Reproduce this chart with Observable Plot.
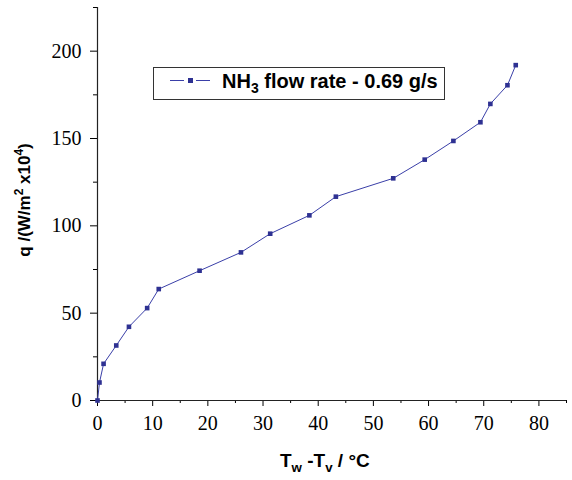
<!DOCTYPE html>
<html>
<head>
<meta charset="utf-8">
<script src="https://cdn.jsdelivr.net/npm/d3@7"></script>
<script src="https://cdn.jsdelivr.net/npm/@observablehq/plot@0.6"></script>
<style>
  body { margin: 0; background: #fff; }
  .ov { position: absolute; font-family: "Liberation Sans", Arial, sans-serif; font-weight: bold; color: #000; white-space: nowrap; }
  .ov sub, .ov sup { font-size: 0.7em; }
</style>
</head>
<body>
<div id="wrap"></div>
<div id="legbox" style="position:absolute;left:153px;top:67px;width:292px;height:33px;border:1px solid #333;background:#fff;box-sizing:border-box;">
  <div style="position:absolute;left:16px;top:12px;width:14px;height:0;border-top:1px solid #3a3fa8;"></div>
  <div style="position:absolute;left:33.5px;top:10px;width:5px;height:5px;background:#2e3192;"></div>
  <div style="position:absolute;left:42px;top:12px;width:14px;height:0;border-top:1px solid #3a3fa8;"></div>
  <div id="legtext" class="ov" style="left:68px;top:1px;font-size:20px;line-height:24px;"></div>
</div>
<div id="xlab" class="ov" style="left:280px;top:450px;font-size:19px;line-height:22px;">T<sub>w</sub> -T<sub>v</sub> / °C</div>
<div id="ylab" class="ov" style="left:22px;top:200px;font-size:17px;line-height:20px;transform:translate(-50%,-50%) rotate(-90deg);">q /(W/m<sup>2</sup> x10<sup>4</sup>)</div>
<script>
const dT = [0, 0.36, 1.1, 3.4, 5.7, 9.0, 11.1, 18.5, 26.0, 31.3, 38.4, 43.2, 53.6, 59.3, 64.5, 69.4, 71.2, 74.3, 75.8];
const q  = [0, 10.3, 21, 31.5, 42.2, 52.9, 63.8, 74.3, 84.8, 95.5, 106, 116.7, 127.2, 137.9, 148.6, 159.3, 169.8, 180.5, 192];
const xMajor = [0, 10, 20, 30, 40, 50, 60, 70, 80];
const xMinor = [5, 15, 25, 35, 45, 55, 65, 75, 85];
const yMajor = [0, 50, 100, 150, 200];
const yMinor = [25, 75, 125, 175, 225];
const seriesLabel = "NH<sub>3</sub> flow rate - 0.69 g/s";

document.getElementById("legtext").innerHTML = seriesLabel;

const data = dT.map((x, i) => ({x, y: q[i]}));
const chart = Plot.plot({
  width: 572, height: 480, marginLeft: 97, marginRight: 6, marginTop: 7, marginBottom: 80,
  style: { fontFamily: "Liberation Serif, serif", fontSize: "20px" },
  x: { domain: [0, 85] }, y: { domain: [0, 225] },
  marks: [
    Plot.axisX(xMajor, { tickSize: 6, tickPadding: 9, label: null, fontFamily: "Liberation Serif", fontSize: 20 }),
    Plot.axisY(yMajor, { tickSize: 7, tickPadding: 9, label: null, fontFamily: "Liberation Serif", fontSize: 20 }),
    Plot.axisX(xMinor, { tickSize: 3, tickFormat: () => "", label: null }),
    Plot.axisY(yMinor, { tickSize: 4, tickFormat: () => "", label: null }),
    Plot.ruleX([0], { stroke: "#222", strokeWidth: 1.2 }),
    Plot.ruleY([0], { stroke: "#222", strokeWidth: 1.2 }),
    Plot.line(data, { x: "x", y: "y", stroke: "#3a3fa8", strokeWidth: 1 }),
    Plot.dot(data, { x: "x", y: "y", symbol: "square", r: 2.6, fill: "#2e3192", stroke: "none" })
  ]
});
d3.select(chart).selectAll("text")
  .attr("font-family", "Liberation Serif")
  .attr("font-size", 20)
  .attr("fill", "#000");
document.getElementById("wrap").appendChild(chart);
</script>
</body>
</html>
